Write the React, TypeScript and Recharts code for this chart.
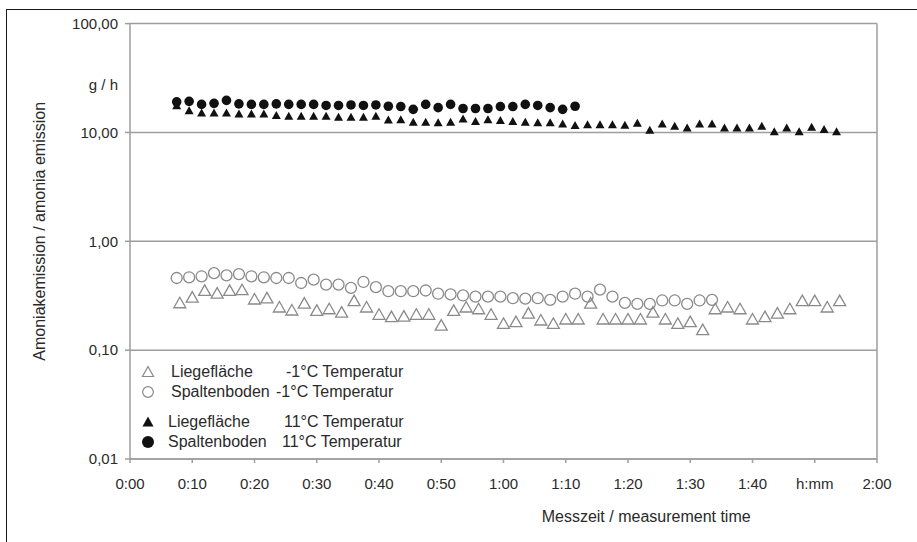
import React from 'react';
import { ScatterChart, Scatter, XAxis, YAxis, CartesianGrid, Legend } from 'recharts';

// measurement times in minutes
const times = [
  7.5, 9.5, 11.5, 13.5, 15.5, 17.5, 19.5, 21.5, 23.5, 25.5, 27.5, 29.5, 31.5, 33.5, 35.5, 37.5, 39.5, 41.5,
  43.5, 45.5, 47.5, 49.5, 51.5, 53.5, 55.5, 57.5, 59.5, 61.5, 63.5, 65.5, 67.5, 69.5, 71.5, 73.5, 75.5, 77.5,
  79.5, 81.5, 83.5, 85.5, 87.5, 89.5, 91.5, 93.5, 95.5, 97.5, 99.5, 101.5, 103.5, 105.5, 107.5, 109.5, 111.5, 113.5,
];
const timesOpenTri = [
  8, 10, 12, 14, 16, 18, 20, 22, 24, 26, 28, 30, 32, 34, 36, 38, 40, 42,
  44, 46, 48, 50, 52, 54, 56, 58, 60, 62, 64, 66, 68, 70, 72, 74, 76, 78,
  80, 82, 84, 86, 88, 90, 92, 94, 96, 98, 100, 102, 104, 106, 108, 110, 112, 114,
];

// g/h
const liegeWarm = [
  17.5, 15.7, 15.0, 15.0, 15.0, 14.7, 14.7, 14.7, 14.2, 14.0, 14.0, 14.0, 14.0, 13.7, 13.7, 13.7, 14.0, 12.9,
  13.0, 12.3, 12.3, 12.2, 12.3, 13.2, 12.5, 13.0, 12.8, 12.5, 12.3, 12.2, 12.2, 11.9, 11.5, 11.7, 11.7, 11.7,
  11.6, 12.1, 10.4, 11.9, 11.3, 10.9, 11.9, 11.9, 10.9, 10.9, 10.9, 11.3, 10.1, 10.9, 10.1, 11.1, 10.6, 10.1,
];
const spaltenWarm = [
  19.1, 19.3, 18.1, 18.5, 19.7, 18.3, 18.1, 18.1, 18.3, 18.1, 18.1, 18.1, 17.7, 17.7, 17.9, 17.7, 17.9, 17.4,
  17.3, 16.3, 18.1, 16.9, 18.1, 16.6, 16.6, 16.6, 17.3, 17.3, 18.1, 17.7, 16.9, 16.3, 17.4,
];
const spaltenCold = [
  0.46, 0.467, 0.477, 0.51, 0.487, 0.5, 0.477, 0.467, 0.46, 0.46, 0.414, 0.444, 0.4, 0.4, 0.373, 0.423, 0.379, 0.348,
  0.348, 0.348, 0.353, 0.33, 0.325, 0.318, 0.31, 0.31, 0.31, 0.3, 0.297, 0.3, 0.29, 0.31, 0.33, 0.31, 0.36, 0.31,
  0.272, 0.266, 0.266, 0.286, 0.286, 0.266, 0.286, 0.29,
];
const liegeCold = [
  0.268, 0.302, 0.348, 0.329, 0.348, 0.353, 0.29, 0.297, 0.245, 0.23, 0.266, 0.228, 0.236, 0.22, 0.28, 0.245, 0.21, 0.2,
  0.202, 0.21, 0.21, 0.167, 0.228, 0.245, 0.236, 0.21, 0.173, 0.18, 0.215, 0.186, 0.173, 0.19, 0.19, 0.266, 0.19, 0.19,
  0.19, 0.19, 0.22, 0.19, 0.173, 0.18, 0.152, 0.236, 0.245, 0.236, 0.19, 0.2, 0.215, 0.236, 0.28, 0.28, 0.245, 0.28,
];

const xTicks = [0, 10, 20, 30, 40, 50, 60, 70, 80, 90, 100, 110, 120];
const yTicks = [0.01, 0.1, 1, 10, 100];

const legendRows = [
  { icon: 'openTri', name: 'Liegefläche', temp: '-1°C Temperatur', nameX: 31, tempX: 146, y: 10 },
  { icon: 'openCircle', name: 'Spaltenboden', temp: '-1°C Temperatur', nameX: 31, tempX: 136, y: 30 },
  { icon: 'solidTri', name: 'Liegefläche', temp: '11°C Temperatur', nameX: 28, tempX: 144, y: 60 },
  { icon: 'solidCircle', name: 'Spaltenboden', temp: '11°C Temperatur', nameX: 28, tempX: 142, y: 80 },
];

const FONT = '"Liberation Sans", Arial, sans-serif';
const GRID = '#9e9e9e';
const OPEN = '#8a8a8a';
const TEXT = '#2a2a2a';

const toPoints = (xs: number[], vs: number[]) => vs.map((v, i) => ({ t: xs[i], v }));

function formatTime(m: number) {
  if (m === 110) return 'h:mm';
  const h = Math.floor(m / 60);
  const mm = m % 60;
  return `${h}:${mm < 10 ? '0' : ''}${mm}`;
}

const formatValue = (v: number) => v.toFixed(2).replace('.', ',');

function triPath(cx: number, cy: number, w: number, h: number) {
  return `M${cx},${cy - h * 0.6} L${cx + w / 2},${cy + h * 0.4} L${cx - w / 2},${cy + h * 0.4} Z`;
}

const OpenTri = (p: any) => (
  <path d={triPath(p.cx, p.cy, 12, 10.5)} fill="none" stroke={OPEN} strokeWidth={1.3} />
);
const OpenCircle = (p: any) => (
  <circle cx={p.cx} cy={p.cy} r={5.5} fill="none" stroke={OPEN} strokeWidth={1.3} />
);
const SolidTri = (p: any) => <path d={triPath(p.cx, p.cy, 9, 8)} fill="#111" />;
const SolidCircle = (p: any) => <circle cx={p.cx} cy={p.cy} r={4.8} fill="#111" />;

function LegendIcon({ kind }: { kind: string }) {
  return (
    <svg width={16} height={16} style={{ position: 'absolute', left: 0, top: -8 }}>
      {kind === 'openTri' && <path d={triPath(8, 8.5, 11, 10)} fill="none" stroke={OPEN} strokeWidth={1.2} />}
      {kind === 'openCircle' && <circle cx={8} cy={8} r={5.3} fill="none" stroke={OPEN} strokeWidth={1.2} />}
      {kind === 'solidTri' && <path d={triPath(8, 8.5, 11, 10)} fill="#111" />}
      {kind === 'solidCircle' && <circle cx={8} cy={8} r={6} fill="#111" />}
    </svg>
  );
}

function LegendBox() {
  return (
    <div style={{ position: 'relative', width: 300, height: 92, fontFamily: FONT, fontSize: 16, color: TEXT }}>
      {legendRows.map((r, i) => (
        <div key={i} style={{ position: 'absolute', left: 0, top: r.y, width: 300, height: 0 }}>
          <LegendIcon kind={r.icon} />
          <span style={{ position: 'absolute', left: r.nameX, top: -9, whiteSpace: 'nowrap', lineHeight: '18px' }}>{r.name}</span>
          <span style={{ position: 'absolute', left: r.tempX, top: -9, whiteSpace: 'nowrap', lineHeight: '18px' }}>{r.temp}</span>
        </div>
      ))}
    </div>
  );
}

const YLabels = (props: any) => {
  const { x, y, width, height } = props.viewBox;
  return (
    <g fontFamily={FONT} fill={TEXT}>
      <text
        x={x + 45}
        y={y + height / 2 - 10}
        transform={`rotate(-90, ${x + 45}, ${y + height / 2 - 10})`}
        textAnchor="middle"
        fontSize={16}
      >
        Amoniakemission / amonia emission
      </text>
      <text x={x + width - 12} y={y + 66} textAnchor="end" fontSize={15}>
        g / h
      </text>
    </g>
  );
};

const XLabel = (props: any) => {
  const { x, y, width } = props.viewBox;
  return (
    <text x={x + width * 0.691} y={y + 63} textAnchor="middle" fontSize={16} fontFamily={FONT} fill={TEXT}>
      Messzeit / measurement time
    </text>
  );
};

export default function App() {
  const tick = { fontSize: 15, fontFamily: FONT, fill: TEXT };
  return (
    <div style={{ position: 'absolute', left: 0, top: 0, width: 917, height: 542, background: '#fff' }}>
      <div
        style={{
          position: 'absolute',
          left: 6,
          top: 9,
          width: 911,
          height: 533,
          borderTop: '1.5px solid #1a1a1a',
          borderLeft: '1.5px solid #1a1a1a',
        }}
      />
      <ScatterChart width={917} height={542} margin={{ top: 23.6, right: 0, bottom: 0, left: 0 }}>
        <CartesianGrid vertical={false} stroke={GRID} strokeWidth={1.5} />
        <XAxis
          type="number"
          dataKey="t"
          domain={[0, 120]}
          ticks={xTicks}
          tickFormatter={formatTime}
          height={83}
          tickSize={4}
          tickMargin={15}
          tick={tick}
          stroke={GRID}
          strokeWidth={1.5}
          interval={0}
          label={<XLabel />}
        />
        <YAxis
          type="number"
          dataKey="v"
          scale="log"
          domain={[0.01, 100]}
          ticks={yTicks}
          tickFormatter={formatValue}
          allowDataOverflow
          width={130}
          tickSize={5}
          tickMargin={7}
          tick={tick}
          stroke={GRID}
          strokeWidth={1.5}
          interval={0}
          label={<YLabels />}
        />
        <YAxis
          yAxisId="r"
          orientation="right"
          type="number"
          domain={[0, 1]}
          width={40}
          tick={false}
          tickLine={false}
          stroke={GRID}
          strokeWidth={1.5}
        />
        <Legend
          layout="vertical"
          align="center"
          verticalAlign="middle"
          content={() => <LegendBox />}
          wrapperStyle={{ position: 'absolute', left: 140, top: 362, width: 300, height: 92 }}
        />
        <Scatter name="Spaltenboden -1°C" data={toPoints(times, spaltenCold)} shape={OpenCircle} isAnimationActive={false} />
        <Scatter name="Liegefläche -1°C" data={toPoints(timesOpenTri, liegeCold)} shape={OpenTri} isAnimationActive={false} />
        <Scatter name="Liegefläche 11°C" data={toPoints(times, liegeWarm)} shape={SolidTri} isAnimationActive={false} />
        <Scatter name="Spaltenboden 11°C" data={toPoints(times, spaltenWarm)} shape={SolidCircle} isAnimationActive={false} />
      </ScatterChart>
    </div>
  );
}
